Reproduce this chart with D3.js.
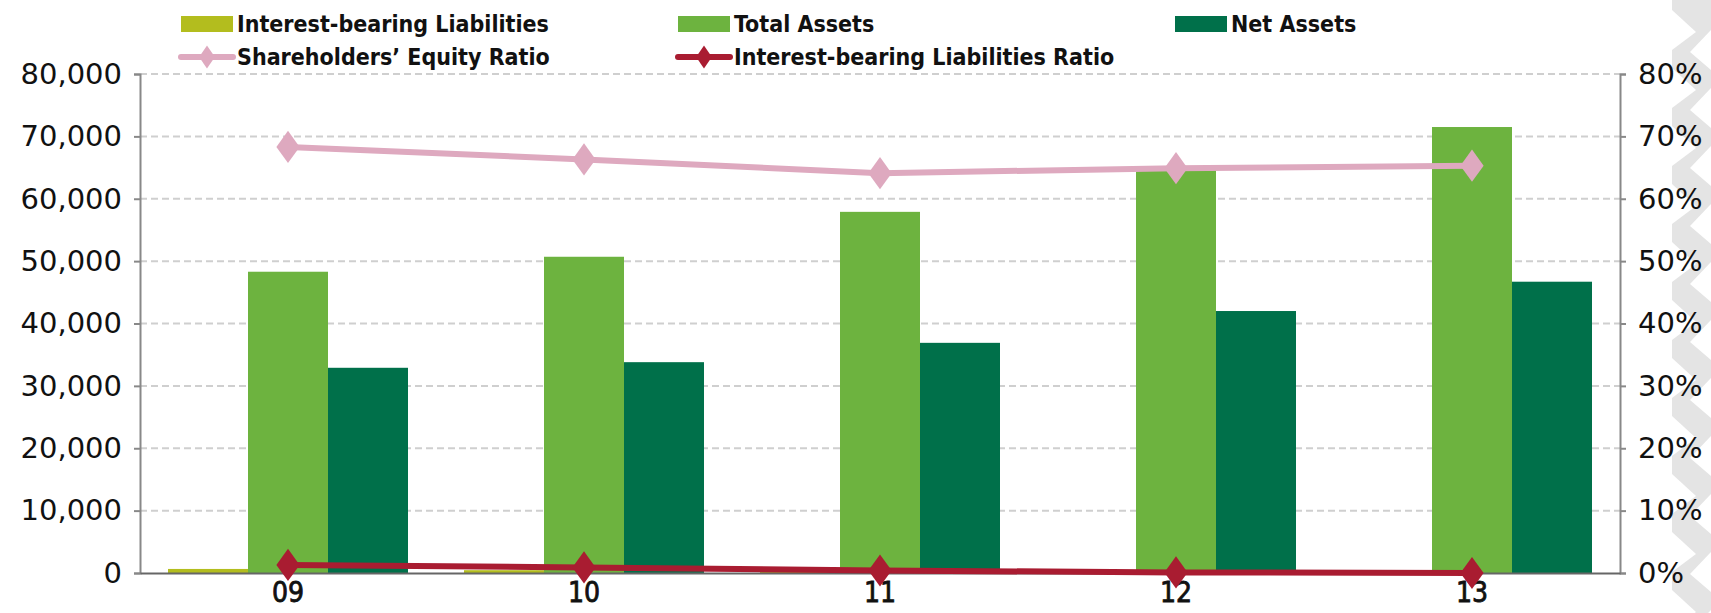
<!DOCTYPE html>
<html>
<head>
<meta charset="utf-8">
<script src="https://cdnjs.cloudflare.com/ajax/libs/d3/7.8.5/d3.min.js"></script>
<style>
  body { margin: 0; background: #fff; }
  .tick text { font-family: "DejaVu Sans", sans-serif; font-size: 29px; fill: #111; }
  .xaxis .tick text { font-family: "DejaVu Sans Condensed", "DejaVu Sans", sans-serif; font-size: 28px; stroke: #111; stroke-width: 0.8px; }
  .legend { font-family: "DejaVu Sans Condensed", "DejaVu Sans", sans-serif; font-size: 23px; font-weight: bold; fill: #111; }
</style>
</head>
<body>
<div class="interactive"></div>
<script>
var years = ["09", "10", "11", "12", "13"];
var liabilities = [650, 450, 250, 60, 10];
var totalAssets = [48300, 50700, 57900, 64600, 71500];
var netAssets = [32900, 33800, 36900, 42000, 46700];
var equityRatio = [68.3, 66.3, 64.1, 64.9, 65.3];
var liabRatio = [1.3, 0.9, 0.4, 0.1, 0.0];
var leftTicks = [0, 10000, 20000, 30000, 40000, 50000, 60000, 70000, 80000];
var rightTicks = [0, 10, 20, 30, 40, 50, 60, 70, 80];

var barSeries = ["Interest-bearing Liabilities", "Total Assets", "Net Assets"];
var barColors = ["#b3bd1e", "#6db33f", "#00704a"];

var width = 1711;
var height = 613;
var margin = { top: 74, right: 91, bottom: 40, left: 140 };
var plotW = width - margin.left - margin.right;
var plotH = height - margin.top - margin.bottom;

var svg = d3.select(".interactive")
    .append("svg")
    .attr("width", width)
    .attr("height", height);

// decorative strip at the right edge
var deco = svg.append("g");
deco.append("rect")
    .attr("x", 1672).attr("y", 0)
    .attr("width", 39).attr("height", height)
    .attr("fill", "#e4e4e4");
for (var k = 0; k < 11; k++) {
    var yy = k * 58;
    deco.append("path")
        .attr("d", "M1672," + (yy + 10) + " L1696," + (yy + 32) + " L1672," + (yy + 50) + " Z")
        .attr("fill", "#fff");
    deco.append("path")
        .attr("d", "M1711," + (yy + 30) + " L1690," + (yy + 52) + " L1711," + (yy + 70) + " Z")
        .attr("fill", "#fff");
}

var g = svg.append("g")
    .attr("transform", "translate(" + margin.left + "," + margin.top + ")");

var x0 = d3.scaleBand().domain(years).range([0, plotW]).padding(0);
var x1 = d3.scaleBand().domain(barSeries).range([0, x0.bandwidth()])
    .paddingInner(0).paddingOuter(0.35);
var yL = d3.scaleLinear().domain([0, 80000]).range([plotH, 0]);
var yR = d3.scaleLinear().domain([0, 80]).range([plotH, 0]);

// gridlines
g.append("g")
    .selectAll("line")
    .data(leftTicks.filter(function (d) { return d > 0; }))
    .enter()
    .append("line")
    .attr("x1", 0).attr("x2", plotW)
    .attr("y1", function (d) { return yL(d); })
    .attr("y2", function (d) { return yL(d); })
    .attr("stroke", "#cfcfcf")
    .attr("stroke-width", 2)
    .attr("stroke-dasharray", "7,4");

// bars
var barData = [liabilities, totalAssets, netAssets];
barData.forEach(function (vals, si) {
    g.append("g")
        .selectAll("rect")
        .data(vals)
        .enter()
        .append("rect")
        .attr("x", function (d, i) { return x0(years[i]) + x1(barSeries[si]); })
        .attr("y", function (d) { return yL(d); })
        .attr("width", x1.bandwidth())
        .attr("height", function (d) { return plotH - yL(d); })
        .attr("fill", barColors[si]);
});

// axes
var leftAxis = g.append("g")
    .call(d3.axisLeft(yL).tickValues(leftTicks).tickSize(6).tickPadding(12)
        .tickFormat(d3.format(",")));
var rightAxis = g.append("g")
    .attr("transform", "translate(" + plotW + ",0)")
    .call(d3.axisRight(yR).tickValues(rightTicks).tickSize(6).tickPadding(12)
        .tickFormat(function (d) { return d + "%"; }));
[leftAxis, rightAxis].forEach(function (a) {
    a.select(".domain").attr("stroke", "#888").attr("stroke-width", 2);
    a.selectAll(".tick line").attr("stroke", "#888").attr("stroke-width", 2);
});

var xAxis = g.append("g")
    .attr("class", "xaxis")
    .attr("transform", "translate(0," + plotH + ")")
    .call(d3.axisBottom(x0).tickSize(0).tickPadding(9));
xAxis.select(".domain").attr("stroke", "#666").attr("stroke-width", 2);

// lines
var diamond = d3.symbol().type(d3.symbolDiamond);
var lineSeries = [
    { vals: equityRatio, color: "#dea9bf", size: 300 },
    { vals: liabRatio, color: "#a91c31", size: 300 }
];
lineSeries.forEach(function (s) {
    var line = d3.line()
        .x(function (d, i) { return x0(years[i]) + x0.bandwidth() / 2; })
        .y(function (d) { return yR(d); });
    g.append("path")
        .datum(s.vals)
        .attr("d", line)
        .attr("fill", "none")
        .attr("stroke", s.color)
        .attr("stroke-width", 6);
    g.append("g")
        .selectAll("path")
        .data(s.vals)
        .enter()
        .append("path")
        .attr("transform", function (d, i) {
            return "translate(" + (x0(years[i]) + x0.bandwidth() / 2) + "," + yR(d) + ") scale(1.25,1)";
        })
        .attr("d", diamond.size(s.size))
        .attr("fill", s.color);
});

// legend
var leg = svg.append("g");
var legItems = [
    { label: "Interest-bearing Liabilities", color: barColors[0], type: "rect", x: 181, y: 24 },
    { label: "Total Assets", color: barColors[1], type: "rect", x: 678, y: 24 },
    { label: "Net Assets", color: barColors[2], type: "rect", x: 1175, y: 24 },
    { label: "Shareholders\u2019 Equity Ratio", color: "#dea9bf", type: "line", x: 181, y: 57 },
    { label: "Interest-bearing Liabilities Ratio", color: "#a91c31", type: "line", x: 678, y: 57 }
];
legItems.forEach(function (it) {
    if (it.type === "rect") {
        leg.append("rect")
            .attr("x", it.x).attr("y", it.y - 8)
            .attr("width", 52).attr("height", 16)
            .attr("fill", it.color);
    } else {
        leg.append("line")
            .attr("x1", it.x).attr("x2", it.x + 52)
            .attr("y1", it.y).attr("y2", it.y)
            .attr("stroke", it.color).attr("stroke-width", 6)
            .attr("stroke-linecap", "round");
        leg.append("path")
            .attr("transform", "translate(" + (it.x + 26) + "," + it.y + ") scale(1.2,1)")
            .attr("d", diamond.size(150))
            .attr("fill", it.color);
    }
    leg.append("text")
        .attr("class", "legend")
        .attr("x", it.x + 56)
        .attr("y", it.y)
        .attr("dy", "0.36em")
        .text(it.label);
});
</script>
</body>
</html>
